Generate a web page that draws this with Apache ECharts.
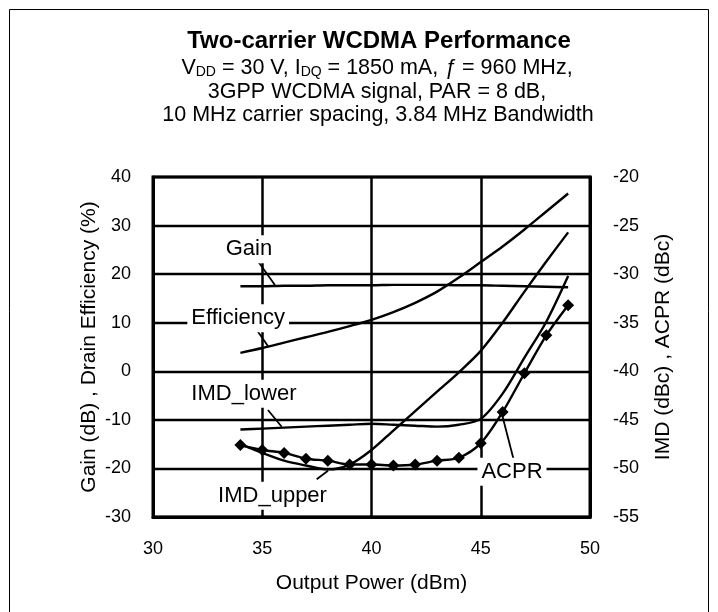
<!DOCTYPE html>
<html>
<head>
<meta charset="utf-8">
<script src="https://cdn.jsdelivr.net/npm/echarts@6/dist/echarts.min.js"></script>
<style>
html,body{margin:0;padding:0;background:#fff;}
#c{width:718px;height:612px;}
</style>
</head>
<body>
<div id="c"></div>
<script>
// ---- data ----
const power = [34,35,36,37,38,39,40,41,42,43,44,45,46,47,48,49];           // Output Power (dBm)
const gainDb = [17.5,17.5,17.6,17.6,17.7,17.7,17.7,17.8,17.8,17.8,17.7,17.7,17.6,17.5,17.4,17.3]; // Gain (dB)
const drainEff = [3.8,4.8,5.9,7.0,8.1,9.3,10.6,12.2,14.1,16.4,19.3,22.5,25.7,29.2,32.9,36.6];    // Drain efficiency (%)
const imdUpper = [-47.5,-48.4,-49.2,-49.7,-50.1,-49.6,-48.1,-46.1,-44.1,-42.1,-40.1,-37.9,-35.0,-31.8,-28.7,-25.7]; // dBc
const imdLower = [-46.0,-45.9,-45.8,-45.7,-45.6,-45.5,-45.4,-45.5,-45.6,-45.7,-45.5,-44.9,-42.3,-38.6,-34.9,-30.2]; // dBc
const acpr = [-47.6,-48.1,-48.4,-49.0,-49.2,-49.6,-49.6,-49.7,-49.6,-49.2,-48.9,-47.4,-44.2,-40.2,-36.3,-33.2];     // dBc

const xTicks = [30,35,40,45,50];
const leftTicks = [-30,-20,-10,0,10,20,30,40];
const rightTicks = [-55,-50,-45,-40,-35,-30,-25,-20];

// annotation texts and their leader lines (in left-axis data units)
const annoText = ['Gain','Efficiency','IMD_lower','IMD_upper','ACPR'];
const annoAt = [[34.39,25.1],[33.9,10.9],[34.16,-4.6],[35.47,-25.6],[46.43,-20.7]];
const leaders = [
  [[34.82,22.56],[35.58,17.76]],
  [[34.75,8.5],[35.28,5.06]],
  [[35.26,-7.97],[35.89,-11.41]],
  [[37.49,-22.24],[38.01,-20.47]],
  [[46.49,-17.92],[46.0,-9.35]]
];

const FONT = "'Liberation Sans', Arial, sans-serif";
const pair = (arr) => power.map((p,i)=>[p,arr[i]]);

const chart = echarts.init(document.getElementById('c'), null, {renderer:'canvas'});

const lineBase = {
  type:'line', smooth:0.3, showSymbol:false, symbol:'none',
  lineStyle:{color:'#000', width:2.4}, itemStyle:{color:'#000'}, animation:false
};

chart.setOption({
  backgroundColor:'#fff',
  animation:false,
  graphic:[
    {type:'rect', shape:{x:9.5,y:9.5,width:699,height:700}, style:{fill:'none',stroke:'#000',lineWidth:1}, silent:true},
    {type:'text', x:379, y:41, style:{text:'Two-carrier WCDMA Performance', font:"bold 24px "+FONT, fill:'#000', align:'center', verticalAlign:'middle'}},
    {type:'text', x:377, y:68, style:{
      text:'V{s|DD} = 30 V, I{s|DQ} = 1850 mA, {i|\u0192} = 960 MHz,',
      fontFamily:FONT, fontSize:21.5, fill:'#000', align:'center', verticalAlign:'middle',
      rich:{s:{fontFamily:FONT,fontSize:14,lineHeight:14,verticalAlign:'bottom',fill:'#000'},
            i:{fontFamily:FONT,fontSize:21.5,fontStyle:'italic',fill:'#000'}}
    }},
    {type:'text', x:377, y:92, style:{text:'3GPP WCDMA signal, PAR = 8 dB,', font:"21.5px "+FONT, fill:'#000', align:'center', verticalAlign:'middle'}},
    {type:'text', x:378, y:115, style:{text:'10 MHz carrier spacing, 3.84 MHz Bandwidth', font:"21.5px "+FONT, fill:'#000', align:'center', verticalAlign:'middle'}}
  ],
  grid:{left:153, right:128, top:177, bottom:95, show:true, borderColor:'#000', borderWidth:3, backgroundColor:'transparent'},
  xAxis:{
    type:'value', min:xTicks[0], max:xTicks[xTicks.length-1], interval:5,
    name:'Output Power (dBm)', nameLocation:'middle', nameGap:56, nameMoveOverlap:false,
    nameTextStyle:{fontFamily:FONT, fontSize:21, color:'#000'},
    axisLine:{show:true, onZero:false, lineStyle:{color:'#000', width:3}},
    axisTick:{show:false},
    axisLabel:{fontFamily:FONT, fontSize:18, color:'#000', margin:23},
    splitLine:{show:true, lineStyle:{color:'#000', width:2.5}}
  },
  yAxis:[
    {
      type:'value', min:leftTicks[0], max:leftTicks[leftTicks.length-1], interval:10,
      name:'Gain (dB) , Drain Efficiency (%)', nameLocation:'middle', nameRotate:90, nameGap:53, nameMoveOverlap:false,
      nameTextStyle:{fontFamily:FONT, fontSize:21, color:'#000'},
      axisLine:{show:true, onZero:false, lineStyle:{color:'#000', width:3}},
      axisTick:{show:false},
      axisLabel:{fontFamily:FONT, fontSize:18, color:'#000', margin:22},
      splitLine:{show:true, lineStyle:{color:'#000', width:2.3}}
    },
    {
      type:'value', position:'right', min:rightTicks[0], max:rightTicks[rightTicks.length-1], interval:5,
      name:'IMD (dBc) , ACPR (dBc)', nameLocation:'middle', nameRotate:90, nameGap:63, nameMoveOverlap:false,
      nameTextStyle:{fontFamily:FONT, fontSize:21, color:'#000'},
      axisLine:{show:true, onZero:false, lineStyle:{color:'#000', width:3}},
      axisTick:{show:false},
      axisLabel:{fontFamily:FONT, fontSize:18, color:'#000', margin:23},
      splitLine:{show:false}
    }
  ],
  series:[
    Object.assign({}, lineBase, {
      name:'Gain', yAxisIndex:0, data:pair(gainDb),
      markPoint:{
        symbol:'circle', symbolSize:1, itemStyle:{color:'rgba(0,0,0,0)'}, animation:false,
        label:{show:true, position:'inside', formatter:'{b}', fontFamily:FONT, fontSize:22, color:'#000',
               backgroundColor:'#fff', padding:[4,4,2,4]},
        data: annoText.map((t,i)=>({name:t, coord:annoAt[i]}))
      },
      markLine:{
        symbol:['none','none'], silent:true, animation:false,
        lineStyle:{color:'#000', width:1.8, type:'solid'}, label:{show:false},
        data: leaders.map(l=>[{coord:l[0]},{coord:l[1]}])
      }
    }),
    Object.assign({}, lineBase, {name:'Efficiency', yAxisIndex:0, data:pair(drainEff)}),
    Object.assign({}, lineBase, {name:'IMD_upper', yAxisIndex:1, data:pair(imdUpper)}),
    Object.assign({}, lineBase, {name:'IMD_lower', yAxisIndex:1, data:pair(imdLower)}),
    Object.assign({}, lineBase, {name:'ACPR', yAxisIndex:1, data:pair(acpr), showSymbol:true, symbol:'diamond', symbolSize:12})
  ]
});
</script>
</body>
</html>
